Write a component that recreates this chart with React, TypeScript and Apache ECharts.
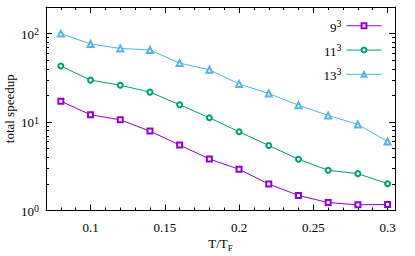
import React, { useEffect, useRef } from 'react';
import * as echarts from 'echarts';

const temperatures = [0.08, 0.1, 0.12, 0.14, 0.16, 0.18, 0.2, 0.22, 0.24, 0.26, 0.28, 0.3];
const speedup9 = [17.2, 12.1, 10.6, 7.9, 5.5, 3.83, 2.92, 1.99, 1.48, 1.23, 1.16, 1.17];
const speedup11 = [43, 29.8, 26.1, 21.8, 15.7, 11.2, 7.76, 5.43, 3.8, 2.85, 2.61, 2.01];
const speedup13 = [100, 76.4, 68.1, 65.3, 46.4, 39, 27, 21, 15.5, 11.9, 9.4, 6.03];
const seriesNames = ['9³', '11³', '13³'];
const seriesBases = ['9', '11', '13'];
const seriesColors = ['#9400d3', '#009e73', '#56b4e9'];
const seriesSymbols = ['emptyRect', 'emptyCircle', 'emptyTriangle'];
const xMajorTicks = [0.1, 0.15, 0.2, 0.25, 0.3];
const xMinorTicks = [0.08, 0.09, 0.11, 0.12, 0.13, 0.14, 0.16, 0.17, 0.18, 0.19, 0.21, 0.22, 0.23, 0.24, 0.26, 0.27, 0.28, 0.29];
const yMajorTicks = [1, 10, 100];
const yMinorTicks = [2, 3, 4, 5, 6, 7, 8, 9, 20, 30, 40, 50, 60, 70, 80, 90];

const FONT = 'Liberation Serif';

export default function App() {
  const ref = useRef<HTMLDivElement>(null);
  useEffect(() => {
    if (!ref.current) return;
    const chart = echarts.init(ref.current, null, { renderer: 'svg' });
    const seriesData = [speedup9, speedup11, speedup13];

    const mkX = (position: string, ticks: number[], len: number, main: boolean) => ({
      type: 'value',
      position,
      offset: 0,
      min: 0.07,
      max: 0.305,
      axisLine: { show: main, onZero: false, lineStyle: { color: '#000', width: 1 } },
      axisTick: { show: true, inside: true, length: len, customValues: ticks, lineStyle: { color: '#000', width: 1 } },
      axisLabel: main && position === 'bottom'
        ? { show: true, customValues: xMajorTicks, margin: 10, color: '#000', fontFamily: FONT, fontSize: 13, formatter: (v: number) => String(v) }
        : { show: false },
      splitLine: { show: false },
      name: main && position === 'bottom' ? '{a|T/T}{sub|F}' : '',
      nameLocation: 'middle',
      nameGap: 26,
      nameMoveOverlap: false,
      nameTextStyle: {
        color: '#000',
        fontFamily: FONT,
        fontSize: 13,
        rich: {
          a: { fontFamily: FONT, fontSize: 13, color: '#000', verticalAlign: 'top', lineHeight: 16 },
          sub: { fontFamily: FONT, fontSize: 9, color: '#000', verticalAlign: 'bottom', lineHeight: 16 },
        },
      },
    });
    const mkY = (position: string, ticks: number[], len: number, main: boolean) => ({
      type: 'log',
      logBase: 10,
      position,
      offset: 0,
      min: 1,
      max: 200,
      axisLine: { show: main, onZero: false, lineStyle: { color: '#000', width: 1 } },
      axisTick: { show: true, inside: true, length: len, customValues: ticks, lineStyle: { color: '#000', width: 1 } },
      axisLabel: main && position === 'left'
        ? {
            show: true,
            customValues: yMajorTicks,
            margin: 7,
            color: '#000',
            fontFamily: FONT,
            fontSize: 13,
            formatter: (v: number) => `{b|10}{s|${Math.round(Math.log10(v))}}`,
            rich: {
              b: { fontFamily: FONT, fontSize: 13, color: '#000', verticalAlign: 'bottom', lineHeight: 14 },
              s: { fontFamily: FONT, fontSize: 10, color: '#000', verticalAlign: 'top', lineHeight: 14, padding: [0, 0, 8, 0] },
            },
          }
        : { show: false },
      splitLine: { show: false },
      name: main && position === 'left' ? 'total speedup' : '',
      nameLocation: 'middle',
      nameGap: 30,
      nameMoveOverlap: false,
      nameTextStyle: { color: '#000', fontFamily: FONT, fontSize: 13 },
    });

    chart.setOption({
      animation: false,
      backgroundColor: '#fff',
      textStyle: { fontFamily: FONT },
      grid: { left: 46, right: 20, top: 7, bottom: 45.5, containLabel: false, outerBoundsMode: 'none' },
      xAxis: [
        mkX('bottom', xMajorTicks, 6, true),
        mkX('bottom', xMinorTicks, 3, false),
        mkX('top', xMajorTicks, 6, true),
        mkX('top', xMinorTicks, 3, false),
      ],
      yAxis: [
        mkY('left', yMajorTicks, 6, true),
        mkY('left', yMinorTicks, 3, false),
        mkY('right', yMajorTicks, 6, true),
        mkY('right', yMinorTicks, 3, false),
      ],
      legend: {
        show: true,
        orient: 'vertical',
        right: 28,
        top: 13,
        align: 'right',
        itemWidth: 35,
        itemHeight: 6,
        itemGap: 6.3,
        data: seriesNames,
        lineStyle: { width: 1 },
        formatter: (name: string) => `{b|${seriesBases[seriesNames.indexOf(name)]}}{s|3}`,
        textStyle: {
          color: '#000',
          fontFamily: FONT,
          fontSize: 13,
          rich: {
            b: { fontFamily: FONT, fontSize: 13, color: '#000', verticalAlign: 'bottom', lineHeight: 15.5 },
            s: { fontFamily: FONT, fontSize: 10, color: '#000', verticalAlign: 'top', lineHeight: 15.5, padding: [0, 0, 8, 0] },
          },
        },
      },
      series: seriesNames.map((name, i) => ({
        name,
        type: 'line',
        xAxisIndex: 0,
        yAxisIndex: 0,
        data: temperatures.map((t, j) => [t, seriesData[i][j]]),
        symbol: seriesSymbols[i],
        symbolSize: i === 2 ? 6 : 5,
        showSymbol: true,
        lineStyle: { color: seriesColors[i], width: 1 },
        itemStyle: { color: seriesColors[i], borderWidth: 1 },
      })),
    });
    return () => chart.dispose();
  }, []);
  return <div ref={ref} style={{ position: 'fixed', left: 0, top: 0, width: 415, height: 256 }} />;
}
